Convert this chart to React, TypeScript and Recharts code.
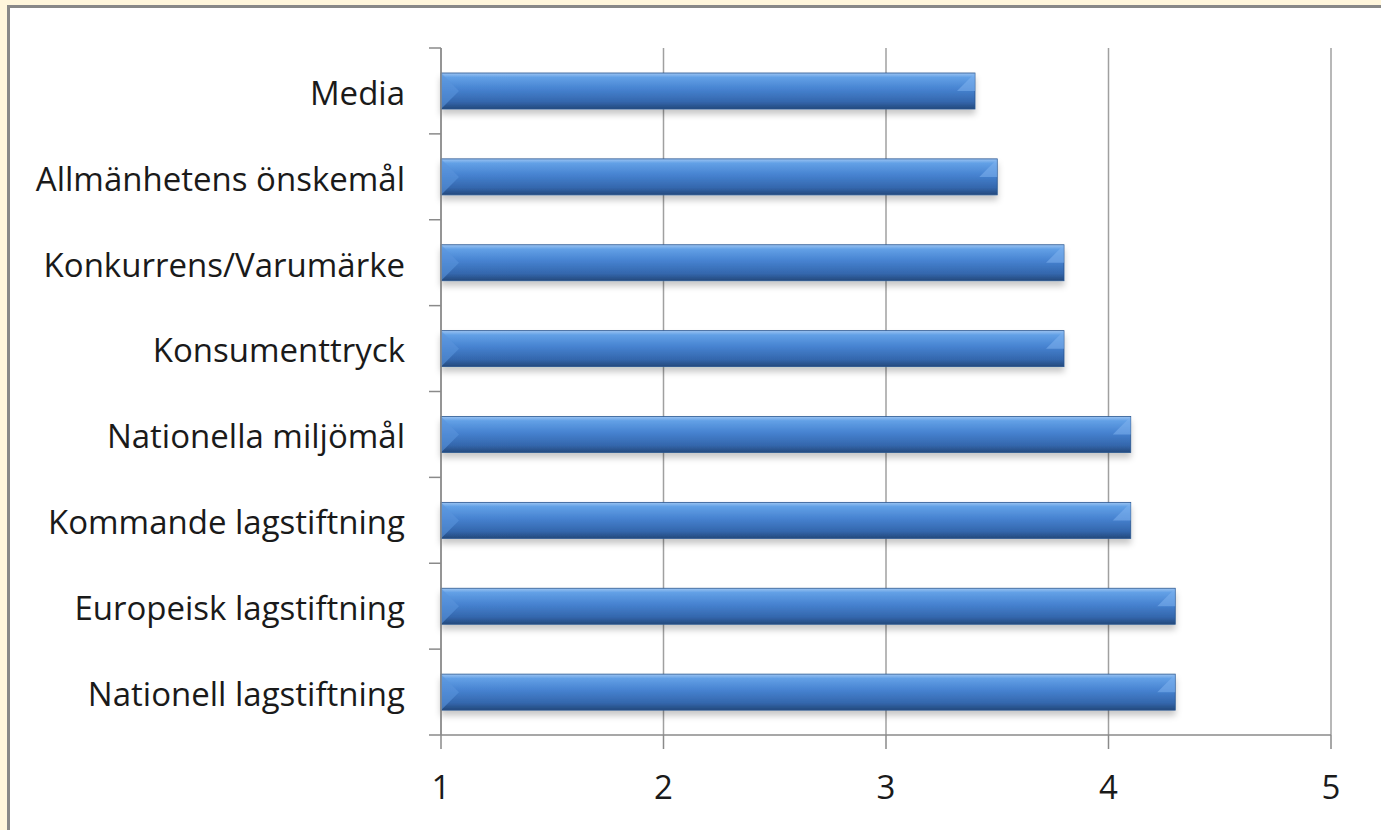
import React from 'react'
import { BarChart, Bar, XAxis, YAxis, CartesianGrid } from 'recharts'

const categories = [
  'Media',
  'Allmänhetens önskemål',
  'Konkurrens/Varumärke',
  'Konsumenttryck',
  'Nationella miljömål',
  'Kommande lagstiftning',
  'Europeisk lagstiftning',
  'Nationell lagstiftning',
]
const values = [3.4, 3.5, 3.8, 3.8, 4.1, 4.1, 4.3, 4.3]
const xTicks = [1, 2, 3, 4, 5]

const data = categories.map((name, i) => ({ name, value: values[i] }))

const W = 1381
const H = 830
const PLOT_TOP = 48
const PLOT_BOTTOM = 735
const PLOT_LEFT = 441
const BAND = (PLOT_BOTTOM - PLOT_TOP) / categories.length
const FONT = '"Open Sans", sans-serif'
const FONT_SIZE = 33
const AXIS = '#8a8a8a'

function CategoryTick(props: any) {
  const { x, y, payload, index } = props
  const lineX1 = PLOT_LEFT - 12
  return (
    <g>
      <line x1={lineX1} x2={PLOT_LEFT} y1={y - BAND / 2} y2={y - BAND / 2} stroke={AXIS} strokeWidth={1.5} />
      {index === categories.length - 1 && (
        <line x1={lineX1} x2={PLOT_LEFT} y1={y + BAND / 2} y2={y + BAND / 2} stroke={AXIS} strokeWidth={1.5} />
      )}
      <text x={x} y={y} dy="0.42em" textAnchor="end" fill="#1a1a1a" fontSize={FONT_SIZE} fontFamily={FONT}>
        {payload.value}
      </text>
    </g>
  )
}

function GlossyBar(props: any) {
  const { x, y, width, height } = props
  if (width <= 0) return null
  const b = Math.min(height / 2, 22)
  return (
    <g filter="url(#barShadow)">
      <rect x={x} y={y} width={width} height={height} fill="url(#barFill)" stroke="#2a5690" strokeWidth={0.8} />
      <polygon
        points={`${x},${y} ${x + b},${y + height / 2} ${x},${y + height}`}
        fill="#5a95dc"
        opacity={0.6}
      />
      <polygon
        points={`${x + width},${y} ${x + width - b},${y + height / 2} ${x + width},${y + height / 2}`}
        fill="#7fb2ee"
        opacity={0.55}
      />
    </g>
  )
}

export default function App() {
  return (
    <div style={{ position: 'absolute', top: 0, left: 0, width: W, height: H, background: '#fff6dc', overflow: 'hidden' }}>
      <div
        style={{
          position: 'absolute',
          left: 7,
          top: 5,
          width: W,
          height: H,
          background: '#fff',
          borderLeft: '3px solid #888',
          borderTop: '3px solid #888',
        }}
      />
      <div style={{ position: 'absolute', top: 0, left: 0 }}>
        <BarChart
          width={W}
          height={H}
          data={data}
          layout="vertical"
          margin={{ top: PLOT_TOP, right: 50, bottom: 0, left: 0 }}
          barSize={36}
        >
          <defs>
            <linearGradient id="barFill" x1="0" y1="0" x2="0" y2="1">
              <stop offset="0" stopColor="#9cc4f2" />
              <stop offset="0.12" stopColor="#62a0e6" />
              <stop offset="0.45" stopColor="#4682d0" />
              <stop offset="0.8" stopColor="#3467ad" />
              <stop offset="1" stopColor="#24497c" />
            </linearGradient>
            <filter id="barShadow" x="-5%" y="-30%" width="110%" height="180%">
              <feDropShadow dx="0" dy="5" stdDeviation="3" floodColor="#000" floodOpacity="0.22" />
            </filter>
          </defs>
          <CartesianGrid horizontal={false} stroke="#a0a0a0" strokeWidth={1.5} />
          <XAxis
            type="number"
            domain={[1, 5]}
            ticks={xTicks}
            interval={0}
            height={H - PLOT_BOTTOM}
            tickSize={14}
            tickMargin={27}
            stroke={AXIS}
            strokeWidth={1.5}
            tick={{ fill: '#1a1a1a', fontSize: FONT_SIZE, fontFamily: FONT }}
          />
          <YAxis
            type="category"
            dataKey="name"
            width={PLOT_LEFT}
            tickLine={false}
            tickSize={12}
            tickMargin={24}
            stroke={AXIS}
            strokeWidth={1.5}
            interval={0}
            tick={<CategoryTick />}
          />
          <Bar dataKey="value" shape={<GlossyBar />} isAnimationActive={false} />
        </BarChart>
      </div>
    </div>
  )
}
